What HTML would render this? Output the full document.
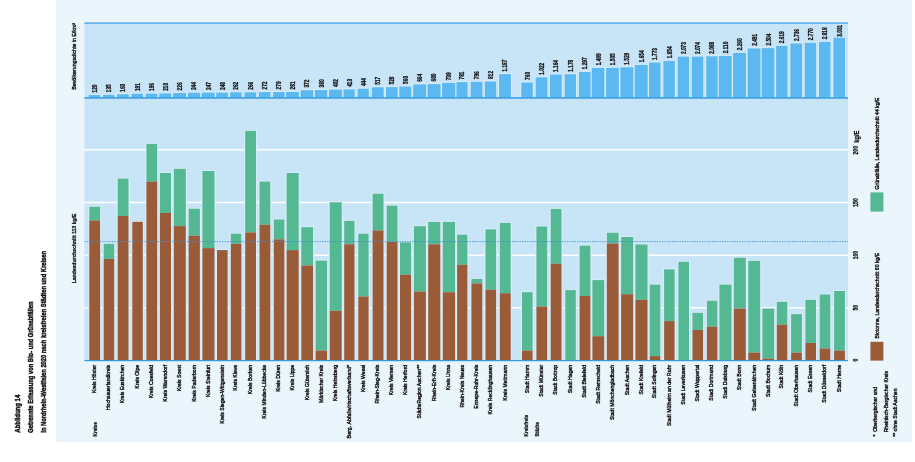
<!DOCTYPE html>
<html lang="de"><head><meta charset="utf-8"><title>Abbildung 14</title>
<style>html,body{margin:0;padding:0;background:#fff}svg{display:block}text{font-family:"Liberation Sans",sans-serif;fill:#141414;stroke:#141414}</style></head><body>
<svg width="915" height="462" viewBox="0 0 915 462">
<rect x="0" y="0" width="915" height="462" fill="#fff"/>
<rect x="55.8" y="0" width="856.1" height="442.2" fill="#eaf5fc"/>
<rect x="84.5" y="23.0" width="763.5" height="337.5" fill="#c8e5f8"/>
<rect x="84.5" y="148.95" width="763.5" height="1.5" fill="#fff"/>
<rect x="84.5" y="201.75" width="763.5" height="1.5" fill="#fff"/>
<rect x="84.5" y="254.45" width="763.5" height="1.5" fill="#fff"/>
<rect x="84.5" y="307.05" width="763.5" height="1.5" fill="#fff"/>
<rect x="87.8" y="94.3" width="13.3" height="3.2" fill="#dbedfa"/>
<rect x="88.3" y="205.9" width="12.8" height="154.6" fill="#dbedfa"/>
<rect x="102.2" y="94.0" width="13.0" height="3.5" fill="#dbedfa"/>
<rect x="102.7" y="243.0" width="12.5" height="117.5" fill="#dbedfa"/>
<rect x="116.2" y="93.5" width="13.3" height="4.0" fill="#dbedfa"/>
<rect x="116.7" y="177.8" width="12.8" height="182.7" fill="#dbedfa"/>
<rect x="130.8" y="92.9" width="13.0" height="4.6" fill="#dbedfa"/>
<rect x="131.3" y="221.0" width="12.5" height="139.5" fill="#dbedfa"/>
<rect x="144.9" y="92.8" width="13.3" height="4.7" fill="#dbedfa"/>
<rect x="145.4" y="143.1" width="12.8" height="217.4" fill="#dbedfa"/>
<rect x="158.4" y="92.6" width="13.6" height="4.9" fill="#dbedfa"/>
<rect x="158.9" y="172.2" width="13.1" height="188.3" fill="#dbedfa"/>
<rect x="172.3" y="92.2" width="14.5" height="5.3" fill="#dbedfa"/>
<rect x="172.8" y="168.0" width="14.0" height="192.5" fill="#dbedfa"/>
<rect x="187.1" y="91.9" width="13.8" height="5.6" fill="#dbedfa"/>
<rect x="187.6" y="207.9" width="13.3" height="152.6" fill="#dbedfa"/>
<rect x="200.9" y="91.8" width="14.6" height="5.7" fill="#dbedfa"/>
<rect x="201.4" y="170.2" width="14.1" height="190.3" fill="#dbedfa"/>
<rect x="215.5" y="91.8" width="13.1" height="5.7" fill="#dbedfa"/>
<rect x="216.0" y="249.3" width="12.6" height="111.2" fill="#dbedfa"/>
<rect x="229.3" y="91.5" width="13.1" height="6.0" fill="#dbedfa"/>
<rect x="229.8" y="232.9" width="12.6" height="127.6" fill="#dbedfa"/>
<rect x="243.7" y="91.5" width="13.3" height="6.0" fill="#dbedfa"/>
<rect x="244.2" y="130.0" width="12.8" height="230.5" fill="#dbedfa"/>
<rect x="258.0" y="91.3" width="13.3" height="6.2" fill="#dbedfa"/>
<rect x="258.5" y="180.8" width="12.8" height="179.7" fill="#dbedfa"/>
<rect x="272.3" y="91.2" width="13.1" height="6.3" fill="#dbedfa"/>
<rect x="272.8" y="218.7" width="12.6" height="141.8" fill="#dbedfa"/>
<rect x="285.1" y="91.2" width="14.6" height="6.3" fill="#dbedfa"/>
<rect x="285.6" y="172.2" width="14.1" height="188.3" fill="#dbedfa"/>
<rect x="299.8" y="89.4" width="14.3" height="8.1" fill="#dbedfa"/>
<rect x="300.3" y="226.4" width="13.8" height="134.1" fill="#dbedfa"/>
<rect x="314.1" y="89.2" width="14.0" height="8.3" fill="#dbedfa"/>
<rect x="314.6" y="259.8" width="13.5" height="100.7" fill="#dbedfa"/>
<rect x="328.2" y="88.8" width="14.5" height="8.7" fill="#dbedfa"/>
<rect x="328.7" y="201.5" width="14.0" height="159.0" fill="#dbedfa"/>
<rect x="342.7" y="88.6" width="12.8" height="8.9" fill="#dbedfa"/>
<rect x="343.2" y="220.1" width="12.3" height="140.4" fill="#dbedfa"/>
<rect x="356.8" y="87.9" width="12.8" height="9.6" fill="#dbedfa"/>
<rect x="357.3" y="232.9" width="12.3" height="127.6" fill="#dbedfa"/>
<rect x="371.1" y="86.5" width="13.4" height="11.0" fill="#dbedfa"/>
<rect x="371.6" y="192.9" width="12.9" height="167.6" fill="#dbedfa"/>
<rect x="385.2" y="86.3" width="13.3" height="11.2" fill="#dbedfa"/>
<rect x="385.7" y="204.8" width="12.8" height="155.7" fill="#dbedfa"/>
<rect x="398.5" y="85.7" width="13.6" height="11.8" fill="#dbedfa"/>
<rect x="399.0" y="241.5" width="13.1" height="119.0" fill="#dbedfa"/>
<rect x="412.4" y="83.6" width="14.5" height="13.9" fill="#dbedfa"/>
<rect x="412.9" y="225.4" width="14.0" height="135.1" fill="#dbedfa"/>
<rect x="426.7" y="83.3" width="14.6" height="14.2" fill="#dbedfa"/>
<rect x="427.2" y="221.1" width="14.1" height="139.4" fill="#dbedfa"/>
<rect x="441.3" y="82.1" width="14.8" height="15.4" fill="#dbedfa"/>
<rect x="441.8" y="221.1" width="14.3" height="139.4" fill="#dbedfa"/>
<rect x="455.6" y="81.3" width="12.8" height="16.2" fill="#dbedfa"/>
<rect x="456.1" y="233.9" width="12.3" height="126.6" fill="#dbedfa"/>
<rect x="469.9" y="81.0" width="13.4" height="16.5" fill="#dbedfa"/>
<rect x="470.4" y="278.1" width="12.9" height="82.4" fill="#dbedfa"/>
<rect x="484.0" y="80.7" width="13.1" height="16.8" fill="#dbedfa"/>
<rect x="484.5" y="228.6" width="12.6" height="131.9" fill="#dbedfa"/>
<rect x="498.3" y="73.3" width="13.4" height="24.2" fill="#dbedfa"/>
<rect x="498.8" y="222.1" width="12.9" height="138.4" fill="#dbedfa"/>
<rect x="520.5" y="81.7" width="13.1" height="15.8" fill="#dbedfa"/>
<rect x="521.0" y="291.4" width="12.6" height="69.1" fill="#dbedfa"/>
<rect x="534.9" y="76.5" width="13.3" height="21.0" fill="#dbedfa"/>
<rect x="535.4" y="225.7" width="12.8" height="134.8" fill="#dbedfa"/>
<rect x="549.2" y="73.7" width="13.3" height="23.8" fill="#dbedfa"/>
<rect x="549.7" y="208.1" width="12.8" height="152.4" fill="#dbedfa"/>
<rect x="563.8" y="73.5" width="13.0" height="24.0" fill="#dbedfa"/>
<rect x="564.3" y="289.3" width="12.5" height="71.2" fill="#dbedfa"/>
<rect x="578.1" y="71.1" width="13.3" height="26.4" fill="#dbedfa"/>
<rect x="578.6" y="244.8" width="12.8" height="115.7" fill="#dbedfa"/>
<rect x="590.9" y="67.1" width="14.3" height="30.4" fill="#dbedfa"/>
<rect x="591.4" y="279.3" width="13.8" height="81.2" fill="#dbedfa"/>
<rect x="605.3" y="67.0" width="14.3" height="30.5" fill="#dbedfa"/>
<rect x="605.8" y="231.9" width="13.8" height="128.6" fill="#dbedfa"/>
<rect x="619.6" y="66.5" width="14.6" height="31.0" fill="#dbedfa"/>
<rect x="620.1" y="236.2" width="14.1" height="124.3" fill="#dbedfa"/>
<rect x="633.9" y="64.1" width="14.6" height="33.4" fill="#dbedfa"/>
<rect x="634.4" y="243.7" width="14.1" height="116.8" fill="#dbedfa"/>
<rect x="648.2" y="61.7" width="13.1" height="35.8" fill="#dbedfa"/>
<rect x="648.7" y="283.8" width="12.6" height="76.7" fill="#dbedfa"/>
<rect x="662.6" y="60.1" width="13.0" height="37.4" fill="#dbedfa"/>
<rect x="663.1" y="268.6" width="12.5" height="91.9" fill="#dbedfa"/>
<rect x="676.9" y="55.8" width="13.1" height="41.7" fill="#dbedfa"/>
<rect x="677.4" y="261.0" width="12.6" height="99.5" fill="#dbedfa"/>
<rect x="691.0" y="55.8" width="13.1" height="41.7" fill="#dbedfa"/>
<rect x="691.5" y="312.0" width="12.6" height="48.5" fill="#dbedfa"/>
<rect x="705.4" y="55.5" width="13.0" height="42.0" fill="#dbedfa"/>
<rect x="705.9" y="299.9" width="12.5" height="60.6" fill="#dbedfa"/>
<rect x="717.9" y="55.1" width="14.6" height="42.4" fill="#dbedfa"/>
<rect x="718.4" y="283.8" width="14.1" height="76.7" fill="#dbedfa"/>
<rect x="732.3" y="52.1" width="14.5" height="45.4" fill="#dbedfa"/>
<rect x="732.8" y="256.9" width="14.0" height="103.6" fill="#dbedfa"/>
<rect x="746.8" y="47.6" width="14.4" height="49.9" fill="#dbedfa"/>
<rect x="747.3" y="260.0" width="13.9" height="100.5" fill="#dbedfa"/>
<rect x="760.9" y="47.3" width="14.3" height="50.2" fill="#dbedfa"/>
<rect x="761.4" y="307.8" width="13.8" height="52.7" fill="#dbedfa"/>
<rect x="775.3" y="45.0" width="13.0" height="52.5" fill="#dbedfa"/>
<rect x="775.8" y="301.0" width="12.5" height="59.5" fill="#dbedfa"/>
<rect x="789.6" y="42.7" width="13.3" height="54.8" fill="#dbedfa"/>
<rect x="790.1" y="313.3" width="12.8" height="47.2" fill="#dbedfa"/>
<rect x="803.9" y="42.0" width="13.1" height="55.5" fill="#dbedfa"/>
<rect x="804.4" y="299.0" width="12.6" height="61.5" fill="#dbedfa"/>
<rect x="818.2" y="41.1" width="13.1" height="56.4" fill="#dbedfa"/>
<rect x="818.7" y="293.7" width="12.6" height="66.8" fill="#dbedfa"/>
<rect x="832.6" y="36.9" width="13.3" height="60.6" fill="#dbedfa"/>
<rect x="833.1" y="290.2" width="12.8" height="70.3" fill="#dbedfa"/>
<rect x="88.6" y="95.1" width="11.7" height="2.4" fill="#5bb8f1"/>
<rect x="89.3" y="206.7" width="10.8" height="13.8" fill="#54b893"/>
<rect x="89.3" y="220.5" width="10.8" height="140.0" fill="#9a5b39"/>
<rect x="103.0" y="94.8" width="11.4" height="2.7" fill="#5bb8f1"/>
<rect x="103.7" y="243.8" width="10.5" height="15.1" fill="#54b893"/>
<rect x="103.7" y="258.9" width="10.5" height="101.6" fill="#9a5b39"/>
<rect x="117.0" y="94.3" width="11.7" height="3.2" fill="#5bb8f1"/>
<rect x="117.7" y="178.6" width="10.8" height="37.4" fill="#54b893"/>
<rect x="117.7" y="216.0" width="10.8" height="144.5" fill="#9a5b39"/>
<rect x="131.6" y="93.7" width="11.4" height="3.8" fill="#5bb8f1"/>
<rect x="132.3" y="221.8" width="10.5" height="138.7" fill="#9a5b39"/>
<rect x="145.7" y="93.6" width="11.7" height="3.9" fill="#5bb8f1"/>
<rect x="146.4" y="143.9" width="10.8" height="37.7" fill="#54b893"/>
<rect x="146.4" y="181.6" width="10.8" height="178.9" fill="#9a5b39"/>
<rect x="159.2" y="93.4" width="12.0" height="4.1" fill="#5bb8f1"/>
<rect x="159.9" y="173.0" width="11.1" height="40.0" fill="#54b893"/>
<rect x="159.9" y="213.0" width="11.1" height="147.5" fill="#9a5b39"/>
<rect x="173.1" y="93.0" width="12.9" height="4.5" fill="#5bb8f1"/>
<rect x="173.8" y="168.8" width="12.0" height="57.3" fill="#54b893"/>
<rect x="173.8" y="226.1" width="12.0" height="134.4" fill="#9a5b39"/>
<rect x="187.9" y="92.7" width="12.2" height="4.8" fill="#5bb8f1"/>
<rect x="188.6" y="208.7" width="11.3" height="27.0" fill="#54b893"/>
<rect x="188.6" y="235.7" width="11.3" height="124.8" fill="#9a5b39"/>
<rect x="201.7" y="92.6" width="13.0" height="4.9" fill="#5bb8f1"/>
<rect x="202.4" y="171.0" width="12.1" height="77.1" fill="#54b893"/>
<rect x="202.4" y="248.1" width="12.1" height="112.4" fill="#9a5b39"/>
<rect x="216.3" y="92.6" width="11.5" height="4.9" fill="#5bb8f1"/>
<rect x="217.0" y="250.1" width="10.6" height="110.4" fill="#9a5b39"/>
<rect x="230.1" y="92.3" width="11.5" height="5.2" fill="#5bb8f1"/>
<rect x="230.8" y="233.7" width="10.6" height="10.1" fill="#54b893"/>
<rect x="230.8" y="243.8" width="10.6" height="116.7" fill="#9a5b39"/>
<rect x="244.5" y="92.3" width="11.7" height="5.2" fill="#5bb8f1"/>
<rect x="245.2" y="130.8" width="10.8" height="101.6" fill="#54b893"/>
<rect x="245.2" y="232.4" width="10.8" height="128.1" fill="#9a5b39"/>
<rect x="258.8" y="92.1" width="11.7" height="5.4" fill="#5bb8f1"/>
<rect x="259.5" y="181.6" width="10.8" height="43.2" fill="#54b893"/>
<rect x="259.5" y="224.8" width="10.8" height="135.7" fill="#9a5b39"/>
<rect x="273.1" y="92.0" width="11.5" height="5.5" fill="#5bb8f1"/>
<rect x="273.8" y="219.5" width="10.6" height="19.8" fill="#54b893"/>
<rect x="273.8" y="239.3" width="10.6" height="121.2" fill="#9a5b39"/>
<rect x="285.9" y="92.0" width="13.0" height="5.5" fill="#5bb8f1"/>
<rect x="286.6" y="173.0" width="12.1" height="77.1" fill="#54b893"/>
<rect x="286.6" y="250.1" width="12.1" height="110.4" fill="#9a5b39"/>
<rect x="300.6" y="90.2" width="12.7" height="7.3" fill="#5bb8f1"/>
<rect x="301.3" y="227.2" width="11.8" height="38.3" fill="#54b893"/>
<rect x="301.3" y="265.5" width="11.8" height="95.0" fill="#9a5b39"/>
<rect x="314.9" y="90.0" width="12.4" height="7.5" fill="#5bb8f1"/>
<rect x="315.6" y="260.6" width="11.5" height="90.0" fill="#54b893"/>
<rect x="315.6" y="350.6" width="11.5" height="9.9" fill="#9a5b39"/>
<rect x="329.0" y="89.6" width="12.9" height="7.9" fill="#5bb8f1"/>
<rect x="329.7" y="202.3" width="12.0" height="108.5" fill="#54b893"/>
<rect x="329.7" y="310.8" width="12.0" height="49.7" fill="#9a5b39"/>
<rect x="343.5" y="89.4" width="11.2" height="8.1" fill="#5bb8f1"/>
<rect x="344.2" y="220.9" width="10.3" height="23.4" fill="#54b893"/>
<rect x="344.2" y="244.3" width="10.3" height="116.2" fill="#9a5b39"/>
<rect x="357.6" y="88.7" width="11.2" height="8.8" fill="#5bb8f1"/>
<rect x="358.3" y="233.7" width="10.3" height="62.8" fill="#54b893"/>
<rect x="358.3" y="296.5" width="10.3" height="64.0" fill="#9a5b39"/>
<rect x="371.9" y="87.3" width="11.8" height="10.2" fill="#5bb8f1"/>
<rect x="372.6" y="193.7" width="10.9" height="36.7" fill="#54b893"/>
<rect x="372.6" y="230.4" width="10.9" height="130.1" fill="#9a5b39"/>
<rect x="386.0" y="87.1" width="11.7" height="10.4" fill="#5bb8f1"/>
<rect x="386.7" y="205.6" width="10.8" height="36.2" fill="#54b893"/>
<rect x="386.7" y="241.8" width="10.8" height="118.7" fill="#9a5b39"/>
<rect x="399.3" y="86.5" width="12.0" height="11.0" fill="#5bb8f1"/>
<rect x="400.0" y="242.3" width="11.1" height="32.3" fill="#54b893"/>
<rect x="400.0" y="274.6" width="11.1" height="85.9" fill="#9a5b39"/>
<rect x="413.2" y="84.4" width="12.9" height="13.1" fill="#5bb8f1"/>
<rect x="413.9" y="226.2" width="12.0" height="65.3" fill="#54b893"/>
<rect x="413.9" y="291.5" width="12.0" height="69.0" fill="#9a5b39"/>
<rect x="427.5" y="84.1" width="13.0" height="13.4" fill="#5bb8f1"/>
<rect x="428.2" y="221.9" width="12.1" height="22.4" fill="#54b893"/>
<rect x="428.2" y="244.3" width="12.1" height="116.2" fill="#9a5b39"/>
<rect x="442.1" y="82.9" width="13.2" height="14.6" fill="#5bb8f1"/>
<rect x="442.8" y="221.9" width="12.3" height="70.3" fill="#54b893"/>
<rect x="442.8" y="292.2" width="12.3" height="68.3" fill="#9a5b39"/>
<rect x="456.4" y="82.1" width="11.2" height="15.4" fill="#5bb8f1"/>
<rect x="457.1" y="234.7" width="10.3" height="30.1" fill="#54b893"/>
<rect x="457.1" y="264.8" width="10.3" height="95.7" fill="#9a5b39"/>
<rect x="470.7" y="81.8" width="11.8" height="15.7" fill="#5bb8f1"/>
<rect x="471.4" y="278.9" width="10.9" height="4.5" fill="#54b893"/>
<rect x="471.4" y="283.4" width="10.9" height="77.1" fill="#9a5b39"/>
<rect x="484.8" y="81.5" width="11.5" height="16.0" fill="#5bb8f1"/>
<rect x="485.5" y="229.4" width="10.6" height="60.3" fill="#54b893"/>
<rect x="485.5" y="289.7" width="10.6" height="70.8" fill="#9a5b39"/>
<rect x="499.1" y="74.1" width="11.8" height="23.4" fill="#5bb8f1"/>
<rect x="499.8" y="222.9" width="10.9" height="70.3" fill="#54b893"/>
<rect x="499.8" y="293.2" width="10.9" height="67.3" fill="#9a5b39"/>
<rect x="521.3" y="82.5" width="11.5" height="15.0" fill="#5bb8f1"/>
<rect x="522.0" y="292.2" width="10.6" height="58.4" fill="#54b893"/>
<rect x="522.0" y="350.6" width="10.6" height="9.9" fill="#9a5b39"/>
<rect x="535.7" y="77.3" width="11.7" height="20.2" fill="#5bb8f1"/>
<rect x="536.4" y="226.5" width="10.8" height="80.1" fill="#54b893"/>
<rect x="536.4" y="306.6" width="10.8" height="53.9" fill="#9a5b39"/>
<rect x="550.0" y="74.5" width="11.7" height="23.0" fill="#5bb8f1"/>
<rect x="550.7" y="208.9" width="10.8" height="54.9" fill="#54b893"/>
<rect x="550.7" y="263.8" width="10.8" height="96.7" fill="#9a5b39"/>
<rect x="564.6" y="74.3" width="11.4" height="23.2" fill="#5bb8f1"/>
<rect x="565.3" y="290.1" width="10.5" height="70.4" fill="#54b893"/>
<rect x="578.9" y="71.9" width="11.7" height="25.6" fill="#5bb8f1"/>
<rect x="579.6" y="245.6" width="10.8" height="50.4" fill="#54b893"/>
<rect x="579.6" y="296.0" width="10.8" height="64.5" fill="#9a5b39"/>
<rect x="591.7" y="67.9" width="12.7" height="29.6" fill="#5bb8f1"/>
<rect x="592.4" y="280.1" width="11.8" height="56.1" fill="#54b893"/>
<rect x="592.4" y="336.2" width="11.8" height="24.3" fill="#9a5b39"/>
<rect x="606.1" y="67.8" width="12.7" height="29.7" fill="#5bb8f1"/>
<rect x="606.8" y="232.7" width="11.8" height="10.8" fill="#54b893"/>
<rect x="606.8" y="243.5" width="11.8" height="117.0" fill="#9a5b39"/>
<rect x="620.4" y="67.3" width="13.0" height="30.2" fill="#5bb8f1"/>
<rect x="621.1" y="237.0" width="12.1" height="57.2" fill="#54b893"/>
<rect x="621.1" y="294.2" width="12.1" height="66.3" fill="#9a5b39"/>
<rect x="634.7" y="64.9" width="13.0" height="32.6" fill="#5bb8f1"/>
<rect x="635.4" y="244.5" width="12.1" height="55.3" fill="#54b893"/>
<rect x="635.4" y="299.8" width="12.1" height="60.7" fill="#9a5b39"/>
<rect x="649.0" y="62.5" width="11.5" height="35.0" fill="#5bb8f1"/>
<rect x="649.7" y="284.6" width="10.6" height="71.5" fill="#54b893"/>
<rect x="649.7" y="356.1" width="10.6" height="4.4" fill="#9a5b39"/>
<rect x="663.4" y="60.9" width="11.4" height="36.6" fill="#5bb8f1"/>
<rect x="664.1" y="269.4" width="10.5" height="51.7" fill="#54b893"/>
<rect x="664.1" y="321.1" width="10.5" height="39.4" fill="#9a5b39"/>
<rect x="677.7" y="56.6" width="11.5" height="40.9" fill="#5bb8f1"/>
<rect x="678.4" y="261.8" width="10.6" height="98.7" fill="#54b893"/>
<rect x="691.8" y="56.6" width="11.5" height="40.9" fill="#5bb8f1"/>
<rect x="692.5" y="312.8" width="10.6" height="17.1" fill="#54b893"/>
<rect x="692.5" y="329.9" width="10.6" height="30.6" fill="#9a5b39"/>
<rect x="706.2" y="56.3" width="11.4" height="41.2" fill="#5bb8f1"/>
<rect x="706.9" y="300.7" width="10.5" height="26.0" fill="#54b893"/>
<rect x="706.9" y="326.7" width="10.5" height="33.8" fill="#9a5b39"/>
<rect x="718.7" y="55.9" width="13.0" height="41.6" fill="#5bb8f1"/>
<rect x="719.4" y="284.6" width="12.1" height="75.9" fill="#54b893"/>
<rect x="733.1" y="52.9" width="12.9" height="44.6" fill="#5bb8f1"/>
<rect x="733.8" y="257.7" width="12.0" height="50.9" fill="#54b893"/>
<rect x="733.8" y="308.6" width="12.0" height="51.9" fill="#9a5b39"/>
<rect x="747.6" y="48.4" width="12.8" height="49.1" fill="#5bb8f1"/>
<rect x="748.3" y="260.8" width="11.9" height="91.8" fill="#54b893"/>
<rect x="748.3" y="352.6" width="11.9" height="7.9" fill="#9a5b39"/>
<rect x="761.7" y="48.1" width="12.7" height="49.4" fill="#5bb8f1"/>
<rect x="762.4" y="308.6" width="11.8" height="50.0" fill="#54b893"/>
<rect x="762.4" y="358.6" width="11.8" height="1.9" fill="#9a5b39"/>
<rect x="776.1" y="45.8" width="11.4" height="51.7" fill="#5bb8f1"/>
<rect x="776.8" y="301.8" width="10.5" height="22.9" fill="#54b893"/>
<rect x="776.8" y="324.7" width="10.5" height="35.8" fill="#9a5b39"/>
<rect x="790.4" y="43.5" width="11.7" height="54.0" fill="#5bb8f1"/>
<rect x="791.1" y="314.1" width="10.8" height="38.5" fill="#54b893"/>
<rect x="791.1" y="352.6" width="10.8" height="7.9" fill="#9a5b39"/>
<rect x="804.7" y="42.8" width="11.5" height="54.7" fill="#5bb8f1"/>
<rect x="805.4" y="299.8" width="10.6" height="43.2" fill="#54b893"/>
<rect x="805.4" y="343.0" width="10.6" height="17.5" fill="#9a5b39"/>
<rect x="819.0" y="41.9" width="11.5" height="55.6" fill="#5bb8f1"/>
<rect x="819.7" y="294.5" width="10.6" height="54.0" fill="#54b893"/>
<rect x="819.7" y="348.5" width="10.6" height="12.0" fill="#9a5b39"/>
<rect x="833.4" y="37.7" width="11.7" height="59.8" fill="#5bb8f1"/>
<rect x="834.1" y="291.0" width="10.8" height="59.6" fill="#54b893"/>
<rect x="834.1" y="350.6" width="10.8" height="9.9" fill="#9a5b39"/>
<line x1="84.5" y1="241.6" x2="848.0" y2="241.6" stroke="#3d8fd1" stroke-width="1" stroke-dasharray="1.4 1.1" opacity="0.85"/>
<rect x="84.5" y="22.5" width="763.5" height="1.1" fill="#2b93de"/>
<rect x="84.5" y="97.2" width="763.5" height="1.5" fill="#2f9be3"/>
<rect x="84.5" y="360.0" width="763.5" height="1.2" fill="#2f9be3"/>
<text transform="translate(96.9 92.5) rotate(-90) scale(0.7 1)" font-size="6.8" font-weight="bold" stroke-width="0.3" text-anchor="start">120</text>
<text transform="translate(96.0 364.8) rotate(-90) scale(0.855 1)" font-size="6" stroke-width="0.4" text-anchor="end">Kreis Höxter</text>
<text transform="translate(111.2 92.2) rotate(-90) scale(0.7 1)" font-size="6.8" font-weight="bold" stroke-width="0.3" text-anchor="start">135</text>
<text transform="translate(110.2 364.8) rotate(-90) scale(0.855 1)" font-size="6" stroke-width="0.4" text-anchor="end">Hochsauerlandkreis</text>
<text transform="translate(125.3 91.7) rotate(-90) scale(0.7 1)" font-size="6.8" font-weight="bold" stroke-width="0.3" text-anchor="start">160</text>
<text transform="translate(124.4 364.8) rotate(-90) scale(0.855 1)" font-size="6" stroke-width="0.4" text-anchor="end">Kreis Euskirchen</text>
<text transform="translate(139.8 91.1) rotate(-90) scale(0.7 1)" font-size="6.8" font-weight="bold" stroke-width="0.3" text-anchor="start">191</text>
<text transform="translate(138.9 364.8) rotate(-90) scale(0.855 1)" font-size="6" stroke-width="0.4" text-anchor="end">Kreis Olpe</text>
<text transform="translate(154.0 91.0) rotate(-90) scale(0.7 1)" font-size="6.8" font-weight="bold" stroke-width="0.3" text-anchor="start">196</text>
<text transform="translate(153.1 364.8) rotate(-90) scale(0.855 1)" font-size="6" stroke-width="0.4" text-anchor="end">Kreis Coesfeld</text>
<text transform="translate(167.6 90.8) rotate(-90) scale(0.7 1)" font-size="6.8" font-weight="bold" stroke-width="0.3" text-anchor="start">210</text>
<text transform="translate(166.8 364.8) rotate(-90) scale(0.855 1)" font-size="6" stroke-width="0.4" text-anchor="end">Kreis Warendorf</text>
<text transform="translate(182.0 90.4) rotate(-90) scale(0.7 1)" font-size="6.8" font-weight="bold" stroke-width="0.3" text-anchor="start">226</text>
<text transform="translate(181.1 364.8) rotate(-90) scale(0.855 1)" font-size="6" stroke-width="0.4" text-anchor="end">Kreis Soest</text>
<text transform="translate(196.4 90.1) rotate(-90) scale(0.7 1)" font-size="6.8" font-weight="bold" stroke-width="0.3" text-anchor="start">244</text>
<text transform="translate(195.6 364.8) rotate(-90) scale(0.855 1)" font-size="6" stroke-width="0.4" text-anchor="end">Kreis Paderborn</text>
<text transform="translate(210.6 90.0) rotate(-90) scale(0.7 1)" font-size="6.8" font-weight="bold" stroke-width="0.3" text-anchor="start">247</text>
<text transform="translate(209.8 364.8) rotate(-90) scale(0.855 1)" font-size="6" stroke-width="0.4" text-anchor="end">Kreis Steinfurt</text>
<text transform="translate(224.5 90.0) rotate(-90) scale(0.7 1)" font-size="6.8" font-weight="bold" stroke-width="0.3" text-anchor="start">248</text>
<text transform="translate(223.6 364.8) rotate(-90) scale(0.855 1)" font-size="6" stroke-width="0.4" text-anchor="end">Kreis Siegen-Wittgenstein</text>
<text transform="translate(238.3 89.7) rotate(-90) scale(0.7 1)" font-size="6.8" font-weight="bold" stroke-width="0.3" text-anchor="start">262</text>
<text transform="translate(237.4 364.8) rotate(-90) scale(0.855 1)" font-size="6" stroke-width="0.4" text-anchor="end">Kreis Kleve</text>
<text transform="translate(252.8 89.7) rotate(-90) scale(0.7 1)" font-size="6.8" font-weight="bold" stroke-width="0.3" text-anchor="start">266</text>
<text transform="translate(251.9 364.8) rotate(-90) scale(0.855 1)" font-size="6" stroke-width="0.4" text-anchor="end">Kreis Borken</text>
<text transform="translate(267.1 89.5) rotate(-90) scale(0.7 1)" font-size="6.8" font-weight="bold" stroke-width="0.3" text-anchor="start">272</text>
<text transform="translate(266.2 364.8) rotate(-90) scale(0.855 1)" font-size="6" stroke-width="0.4" text-anchor="end">Kreis Minden-Lübbecke</text>
<text transform="translate(281.3 89.4) rotate(-90) scale(0.7 1)" font-size="6.8" font-weight="bold" stroke-width="0.3" text-anchor="start">279</text>
<text transform="translate(280.4 364.8) rotate(-90) scale(0.855 1)" font-size="6" stroke-width="0.4" text-anchor="end">Kreis Düren</text>
<text transform="translate(294.8 89.4) rotate(-90) scale(0.7 1)" font-size="6.8" font-weight="bold" stroke-width="0.3" text-anchor="start">281</text>
<text transform="translate(293.9 364.8) rotate(-90) scale(0.855 1)" font-size="6" stroke-width="0.4" text-anchor="end">Kreis Lippe</text>
<text transform="translate(309.4 87.6) rotate(-90) scale(0.7 1)" font-size="6.8" font-weight="bold" stroke-width="0.3" text-anchor="start">372</text>
<text transform="translate(308.5 364.8) rotate(-90) scale(0.855 1)" font-size="6" stroke-width="0.4" text-anchor="end">Kreis Gütersloh</text>
<text transform="translate(323.6 87.4) rotate(-90) scale(0.7 1)" font-size="6.8" font-weight="bold" stroke-width="0.3" text-anchor="start">380</text>
<text transform="translate(322.7 364.8) rotate(-90) scale(0.855 1)" font-size="6" stroke-width="0.4" text-anchor="end">Märkischer Kreis</text>
<text transform="translate(337.9 87.0) rotate(-90) scale(0.7 1)" font-size="6.8" font-weight="bold" stroke-width="0.3" text-anchor="start">402</text>
<text transform="translate(337.0 364.8) rotate(-90) scale(0.855 1)" font-size="6" stroke-width="0.4" text-anchor="end">Kreis Heinsberg</text>
<text transform="translate(351.6 86.8) rotate(-90) scale(0.7 1)" font-size="6.8" font-weight="bold" stroke-width="0.3" text-anchor="start">413</text>
<text transform="translate(350.7 364.8) rotate(-90) scale(0.89 1)" font-size="6" stroke-width="0.4" text-anchor="end">Berg. Abfallwirtschaftsverband*</text>
<text transform="translate(365.7 86.1) rotate(-90) scale(0.7 1)" font-size="6.8" font-weight="bold" stroke-width="0.3" text-anchor="start">444</text>
<text transform="translate(364.8 364.8) rotate(-90) scale(0.855 1)" font-size="6" stroke-width="0.4" text-anchor="end">Kreis Wesel</text>
<text transform="translate(380.2 84.7) rotate(-90) scale(0.7 1)" font-size="6.8" font-weight="bold" stroke-width="0.3" text-anchor="start">517</text>
<text transform="translate(379.4 364.8) rotate(-90) scale(0.855 1)" font-size="6" stroke-width="0.4" text-anchor="end">Rhein-Sieg-Kreis</text>
<text transform="translate(394.3 84.5) rotate(-90) scale(0.7 1)" font-size="6.8" font-weight="bold" stroke-width="0.3" text-anchor="start">528</text>
<text transform="translate(393.4 364.8) rotate(-90) scale(0.855 1)" font-size="6" stroke-width="0.4" text-anchor="end">Kreis Viersen</text>
<text transform="translate(407.8 83.9) rotate(-90) scale(0.7 1)" font-size="6.8" font-weight="bold" stroke-width="0.3" text-anchor="start">560</text>
<text transform="translate(406.9 364.8) rotate(-90) scale(0.855 1)" font-size="6" stroke-width="0.4" text-anchor="end">Kreis Herford</text>
<text transform="translate(422.1 81.8) rotate(-90) scale(0.7 1)" font-size="6.8" font-weight="bold" stroke-width="0.3" text-anchor="start">664</text>
<text transform="translate(421.2 364.8) rotate(-90) scale(0.855 1)" font-size="6" stroke-width="0.4" text-anchor="end">StädteRegion Aachen**</text>
<text transform="translate(436.4 81.5) rotate(-90) scale(0.7 1)" font-size="6.8" font-weight="bold" stroke-width="0.3" text-anchor="start">680</text>
<text transform="translate(435.6 364.8) rotate(-90) scale(0.855 1)" font-size="6" stroke-width="0.4" text-anchor="end">Rhein-Erft-Kreis</text>
<text transform="translate(451.2 80.3) rotate(-90) scale(0.7 1)" font-size="6.8" font-weight="bold" stroke-width="0.3" text-anchor="start">739</text>
<text transform="translate(450.3 364.8) rotate(-90) scale(0.855 1)" font-size="6" stroke-width="0.4" text-anchor="end">Kreis Unna</text>
<text transform="translate(464.4 79.5) rotate(-90) scale(0.7 1)" font-size="6.8" font-weight="bold" stroke-width="0.3" text-anchor="start">781</text>
<text transform="translate(463.6 364.8) rotate(-90) scale(0.855 1)" font-size="6" stroke-width="0.4" text-anchor="end">Rhein-Kreis Neuss</text>
<text transform="translate(479.1 79.2) rotate(-90) scale(0.7 1)" font-size="6.8" font-weight="bold" stroke-width="0.3" text-anchor="start">796</text>
<text transform="translate(478.2 364.8) rotate(-90) scale(0.855 1)" font-size="6" stroke-width="0.4" text-anchor="end">Ennepe-Ruhr-Kreis</text>
<text transform="translate(493.0 78.9) rotate(-90) scale(0.7 1)" font-size="6.8" font-weight="bold" stroke-width="0.3" text-anchor="start">812</text>
<text transform="translate(492.1 364.8) rotate(-90) scale(0.855 1)" font-size="6" stroke-width="0.4" text-anchor="end">Kreis Recklinghausen</text>
<text transform="translate(507.4 71.5) rotate(-90) scale(0.7 1)" font-size="6.8" font-weight="bold" stroke-width="0.3" text-anchor="start">1.187</text>
<text transform="translate(506.6 364.8) rotate(-90) scale(0.855 1)" font-size="6" stroke-width="0.4" text-anchor="end">Kreis Mettmann</text>
<text transform="translate(529.5 79.9) rotate(-90) scale(0.7 1)" font-size="6.8" font-weight="bold" stroke-width="0.3" text-anchor="start">760</text>
<text transform="translate(528.6 364.8) rotate(-90) scale(0.855 1)" font-size="6" stroke-width="0.4" text-anchor="end">Stadt Hamm</text>
<text transform="translate(544.0 74.7) rotate(-90) scale(0.7 1)" font-size="6.8" font-weight="bold" stroke-width="0.3" text-anchor="start">1.022</text>
<text transform="translate(543.1 364.8) rotate(-90) scale(0.855 1)" font-size="6" stroke-width="0.4" text-anchor="end">Stadt Münster</text>
<text transform="translate(558.3 71.9) rotate(-90) scale(0.7 1)" font-size="6.8" font-weight="bold" stroke-width="0.3" text-anchor="start">1.164</text>
<text transform="translate(557.4 364.8) rotate(-90) scale(0.855 1)" font-size="6" stroke-width="0.4" text-anchor="end">Stadt Bottrop</text>
<text transform="translate(572.8 71.7) rotate(-90) scale(0.7 1)" font-size="6.8" font-weight="bold" stroke-width="0.3" text-anchor="start">1.178</text>
<text transform="translate(571.8 364.8) rotate(-90) scale(0.855 1)" font-size="6" stroke-width="0.4" text-anchor="end">Stadt Hagen</text>
<text transform="translate(587.2 69.3) rotate(-90) scale(0.7 1)" font-size="6.8" font-weight="bold" stroke-width="0.3" text-anchor="start">1.297</text>
<text transform="translate(586.3 364.8) rotate(-90) scale(0.855 1)" font-size="6" stroke-width="0.4" text-anchor="end">Stadt Bielefeld</text>
<text transform="translate(600.5 65.3) rotate(-90) scale(0.7 1)" font-size="6.8" font-weight="bold" stroke-width="0.3" text-anchor="start">1.499</text>
<text transform="translate(599.6 364.8) rotate(-90) scale(0.855 1)" font-size="6" stroke-width="0.4" text-anchor="end">Stadt Remscheid</text>
<text transform="translate(614.9 65.2) rotate(-90) scale(0.7 1)" font-size="6.8" font-weight="bold" stroke-width="0.3" text-anchor="start">1.505</text>
<text transform="translate(614.0 364.8) rotate(-90) scale(0.855 1)" font-size="6" stroke-width="0.4" text-anchor="end">Stadt Mönchengladbach</text>
<text transform="translate(629.4 64.7) rotate(-90) scale(0.7 1)" font-size="6.8" font-weight="bold" stroke-width="0.3" text-anchor="start">1.529</text>
<text transform="translate(628.5 364.8) rotate(-90) scale(0.855 1)" font-size="6" stroke-width="0.4" text-anchor="end">Stadt Aachen</text>
<text transform="translate(643.7 62.3) rotate(-90) scale(0.7 1)" font-size="6.8" font-weight="bold" stroke-width="0.3" text-anchor="start">1.654</text>
<text transform="translate(642.8 364.8) rotate(-90) scale(0.855 1)" font-size="6" stroke-width="0.4" text-anchor="end">Stadt Krefeld</text>
<text transform="translate(657.2 59.9) rotate(-90) scale(0.7 1)" font-size="6.8" font-weight="bold" stroke-width="0.3" text-anchor="start">1.773</text>
<text transform="translate(656.3 364.8) rotate(-90) scale(0.855 1)" font-size="6" stroke-width="0.4" text-anchor="end">Stadt Solingen</text>
<text transform="translate(671.6 58.3) rotate(-90) scale(0.7 1)" font-size="6.8" font-weight="bold" stroke-width="0.3" text-anchor="start">1.854</text>
<text transform="translate(670.6 364.8) rotate(-90) scale(0.855 1)" font-size="6" stroke-width="0.4" text-anchor="end">Stadt Mülheim an der Ruhr</text>
<text transform="translate(685.9 54.0) rotate(-90) scale(0.7 1)" font-size="6.8" font-weight="bold" stroke-width="0.3" text-anchor="start">2.073</text>
<text transform="translate(685.0 364.8) rotate(-90) scale(0.855 1)" font-size="6" stroke-width="0.4" text-anchor="end">Stadt Leverkusen</text>
<text transform="translate(700.0 54.0) rotate(-90) scale(0.7 1)" font-size="6.8" font-weight="bold" stroke-width="0.3" text-anchor="start">2.074</text>
<text transform="translate(699.1 364.8) rotate(-90) scale(0.855 1)" font-size="6" stroke-width="0.4" text-anchor="end">Stadt Wuppertal</text>
<text transform="translate(714.4 53.7) rotate(-90) scale(0.7 1)" font-size="6.8" font-weight="bold" stroke-width="0.3" text-anchor="start">2.088</text>
<text transform="translate(713.4 364.8) rotate(-90) scale(0.855 1)" font-size="6" stroke-width="0.4" text-anchor="end">Stadt Dortmund</text>
<text transform="translate(727.7 53.3) rotate(-90) scale(0.7 1)" font-size="6.8" font-weight="bold" stroke-width="0.3" text-anchor="start">2.110</text>
<text transform="translate(726.8 364.8) rotate(-90) scale(0.855 1)" font-size="6" stroke-width="0.4" text-anchor="end">Stadt Duisburg</text>
<text transform="translate(742.0 50.3) rotate(-90) scale(0.7 1)" font-size="6.8" font-weight="bold" stroke-width="0.3" text-anchor="start">2.260</text>
<text transform="translate(741.1 364.8) rotate(-90) scale(0.855 1)" font-size="6" stroke-width="0.4" text-anchor="end">Stadt Bonn</text>
<text transform="translate(756.5 45.8) rotate(-90) scale(0.7 1)" font-size="6.8" font-weight="bold" stroke-width="0.3" text-anchor="start">2.491</text>
<text transform="translate(755.5 364.8) rotate(-90) scale(0.855 1)" font-size="6" stroke-width="0.4" text-anchor="end">Stadt Gelsenkirchen</text>
<text transform="translate(770.5 45.5) rotate(-90) scale(0.7 1)" font-size="6.8" font-weight="bold" stroke-width="0.3" text-anchor="start">2.504</text>
<text transform="translate(769.6 364.8) rotate(-90) scale(0.855 1)" font-size="6" stroke-width="0.4" text-anchor="end">Stadt Bochum</text>
<text transform="translate(784.2 43.2) rotate(-90) scale(0.7 1)" font-size="6.8" font-weight="bold" stroke-width="0.3" text-anchor="start">2.619</text>
<text transform="translate(783.3 364.8) rotate(-90) scale(0.855 1)" font-size="6" stroke-width="0.4" text-anchor="end">Stadt Köln</text>
<text transform="translate(798.7 40.9) rotate(-90) scale(0.7 1)" font-size="6.8" font-weight="bold" stroke-width="0.3" text-anchor="start">2.736</text>
<text transform="translate(797.8 364.8) rotate(-90) scale(0.855 1)" font-size="6" stroke-width="0.4" text-anchor="end">Stadt Oberhausen</text>
<text transform="translate(812.9 40.2) rotate(-90) scale(0.7 1)" font-size="6.8" font-weight="bold" stroke-width="0.3" text-anchor="start">2.770</text>
<text transform="translate(812.0 364.8) rotate(-90) scale(0.855 1)" font-size="6" stroke-width="0.4" text-anchor="end">Stadt Essen</text>
<text transform="translate(827.2 39.3) rotate(-90) scale(0.7 1)" font-size="6.8" font-weight="bold" stroke-width="0.3" text-anchor="start">2.818</text>
<text transform="translate(826.3 364.8) rotate(-90) scale(0.855 1)" font-size="6" stroke-width="0.4" text-anchor="end">Stadt Düsseldorf</text>
<text transform="translate(841.7 36.7) rotate(-90) scale(0.7 1)" font-size="6.8" font-weight="bold" stroke-width="0.3" text-anchor="start">3.031</text>
<text transform="translate(840.8 364.8) rotate(-90) scale(0.855 1)" font-size="6" stroke-width="0.4" text-anchor="end">Stadt Herne</text>
<text transform="translate(97.3 436.5) rotate(-90) scale(0.78 1)" font-size="6" font-weight="bold" stroke-width="0.3" text-anchor="start">Kreise</text>
<text transform="translate(528.2 436.5) rotate(-90) scale(0.78 1)" font-size="6" font-weight="bold" stroke-width="0.3" text-anchor="start">Kreisfreie</text>
<text transform="translate(538.6 436.5) rotate(-90) scale(0.78 1)" font-size="6" font-weight="bold" stroke-width="0.3" text-anchor="start">Städte</text>
<text transform="translate(75.6 89.8) rotate(-90) scale(0.883 1)" font-size="6" stroke-width="0.4" text-anchor="start">Bevölkerungsdichte in E/km²</text>
<text transform="translate(76.0 283.3) rotate(-90) scale(0.84 1)" font-size="6" font-weight="bold" stroke-width="0.3" text-anchor="start">Landesdurchschnitt 113 kg/E</text>
<text transform="translate(858.4 360.2) rotate(-90) scale(0.78 1)" font-size="6.4" font-weight="bold" stroke-width="0.3" text-anchor="middle">0</text>
<text transform="translate(858.4 307.8) rotate(-90) scale(0.78 1)" font-size="6.4" font-weight="bold" stroke-width="0.3" text-anchor="middle">50</text>
<text transform="translate(858.4 255.2) rotate(-90) scale(0.78 1)" font-size="6.4" font-weight="bold" stroke-width="0.3" text-anchor="middle">100</text>
<text transform="translate(858.4 202.5) rotate(-90) scale(0.78 1)" font-size="6.4" font-weight="bold" stroke-width="0.3" text-anchor="middle">150</text>
<text transform="translate(858.4 154.4) rotate(-90) scale(0.78 1)" font-size="6.4" font-weight="bold" stroke-width="0.3" text-anchor="start">200</text>
<text transform="translate(858.6 142.8) rotate(-90) scale(0.9 1)" font-size="6.4" font-weight="bold" stroke-width="0.3" text-anchor="start">kg/E</text>
<rect x="870.4" y="341.8" width="13" height="18.8" fill="#9a5b39"/>
<text transform="translate(879.3 338.5) rotate(-90) scale(0.85 1)" font-size="6" stroke-width="0.4" text-anchor="start">Biotonne, Landesdurchschnitt 60 kg/E</text>
<rect x="870.4" y="192.4" width="13" height="19.2" fill="#54b893"/>
<text transform="translate(879.3 189.5) rotate(-90) scale(0.85 1)" font-size="6" stroke-width="0.4" text-anchor="start">Grünabfälle, Landesdurchschnitt 44 kg/E</text>
<text transform="translate(877.0 436.6) rotate(-90) scale(0.85 1)" font-size="6" stroke-width="0.4" text-anchor="start">*&#160;&#160;Oberbergischer und</text>
<text transform="translate(888.1 432.3) rotate(-90) scale(0.85 1)" font-size="6" stroke-width="0.4" text-anchor="start">Rheinisch-Bergischer Kreis</text>
<text transform="translate(897.4 436.8) rotate(-90) scale(0.85 1)" font-size="6" stroke-width="0.4" text-anchor="start">** ohne Stadt Aachen</text>
<text transform="translate(19.5 432.7) rotate(-90) scale(0.8 1)" font-size="7.5" font-weight="bold" stroke-width="0.5" text-anchor="start">Abbildung 14</text>
<text transform="translate(33.0 432.7) rotate(-90) scale(0.77 1)" font-size="7.5" font-weight="bold" stroke-width="0.5" text-anchor="start">Getrennte Erfassung von Bio- und Grünabfällen</text>
<text transform="translate(46.2 432.7) rotate(-90) scale(0.772 1)" font-size="7.5" font-weight="bold" stroke-width="0.5" text-anchor="start">in Nordrhein-Westfalen 2020 nach kreisfreien Städten und Kreisen</text>
</svg></body></html>
